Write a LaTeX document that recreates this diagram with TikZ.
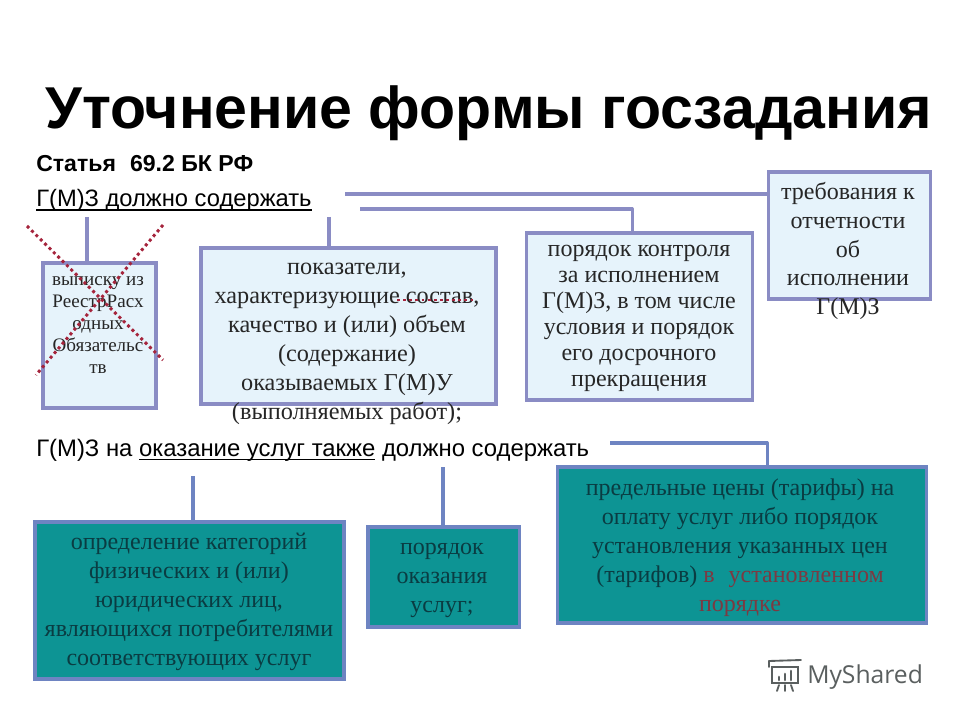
\documentclass[tikz,border=0pt]{standalone}
\usepackage{fontspec}
\setmainfont{Liberation Serif}
\newfontfamily\arialf{Liberation Sans}
\newfontfamily\logof{Open Sans}
\definecolor{bordl}{HTML}{8A8CC4}
\definecolor{filll}{HTML}{E6F3FB}
\definecolor{teal1}{HTML}{0D9494}
\definecolor{bordt}{HTML}{6E84C2}
\definecolor{tealtext}{HTML}{0A3C42}
\definecolor{redtext}{HTML}{7C3A42}
\definecolor{crossred}{HTML}{A5243C}
\definecolor{logogray}{HTML}{5A5F5F}
\newsavebox{\ulbox}
\newcommand{\thickul}[1]{\sbox{\ulbox}{#1}\leavevmode\rlap{\rule[-3.2pt]{\wd\ulbox}{1.2pt}}\usebox{\ulbox}}
\tikzset{
  lightbox/.style={draw=bordl,fill=filll,line width=2.26pt,rectangle,inner sep=0pt,outer sep=0pt},
  tealbox/.style={draw=bordt,fill=teal1,line width=2.26pt,rectangle,inner sep=0pt,outer sep=0pt},
  conn/.style={draw=bordl,line width=2.26pt,line join=round},
  connt/.style={draw=bordt,line width=2.26pt,line join=round},
  boxtext/.style={align=center,inner sep=0pt,text=black!85},
  tealt/.style={align=center,inner sep=0pt,text=tealtext},
  heading/.style={anchor=base west,inner sep=0pt,font=\arialf},
  crossline/.style={draw=crossred,line width=2.2pt,dash pattern=on 2.2pt off 2.4pt}
}
\newcommand{\boxat}[6]{\node[#1,minimum width=#4*0.75pt,minimum height=#5*0.75pt,anchor=north west] (#6) at (#2,#3) {};}
\begin{document}
\begin{tikzpicture}[x=0.75pt,y=-0.75pt]
\useasboundingbox (0,0) rectangle (960,720);
\fill[white] (0,0) rectangle (960,720);
% headings
\node[heading,font=\arialf\bfseries\fontsize{44.3pt}{48pt}\selectfont] (title) at (45,129) {Уточнение формы госзадания};
\node[heading,font=\arialf\bfseries\fontsize{17.3pt}{18pt}\selectfont] (art) at (36,172) {Статья\,\, 69.2 БК РФ};
\node[heading,font=\arialf\fontsize{17.8pt}{18pt}\selectfont] (must) at (36,206.5) {\thickul{Г(М)З должно содержать}};
\node[heading,font=\arialf\fontsize{17.9pt}{18pt}\selectfont] (must2) at (36,456) {Г(М)З на \thickul{оказание услуг также} должно содержать};
% free ends of connectors
\coordinate (a1) at (345,194);
\coordinate (a2) at (360,209);
\coordinate (a3) at (87,217);
\coordinate (a4) at (329,217);
\coordinate (a5) at (193,476);
\coordinate (a6) at (443,467);
\coordinate (a7) at (610,443);
% boxes
\boxat{lightbox}{43}{263}{113}{145}{b1}
\boxat{lightbox}{201}{248}{295}{156}{b2}
\boxat{lightbox}{526}{233}{226}{167}{b3}
\boxat{lightbox}{768}{172}{162}{127}{b4}
\boxat{tealbox}{35}{522}{309}{157}{t1}
\boxat{tealbox}{368}{527}{151}{100}{t2}
\boxat{tealbox}{557}{467}{369}{156}{t3}
% connectors
\draw[conn] (a1) -- (b4.west |- a1);
\draw[conn] (a2) -| (b3.north -| 632,0);
\draw[conn] (a3) -- (87,0 |- b1.north);
\draw[conn] (a4) -- (329,0 |- b2.north);
\draw[connt] (a5) -- (193,0 |- t1.north);
\draw[connt] (a6) -- (443,0 |- t2.north);
\draw[connt] (a7) -| (767,0 |- t3.north);
% box texts
\node[boxtext,font=\fontsize{14.3pt}{16.5pt}\selectfont] (x1) at (98,325.5) {выписку из\\РеестрРасх\\одных\\Обязательс\\тв};
\node[boxtext,font=\fontsize{18.2pt}{21.7pt}\selectfont] (x2) at (347,344) {показатели,\\характеризующие состав,\\качество и (или) объем\\(содержание)\\оказываемых Г(М)У\\(выполняемых работ);};
\node[boxtext,font=\fontsize{18pt}{19.5pt}\selectfont] (x3) at (639,318.5) {порядок контроля\\за исполнением\\Г(М)З, в том числе\\условия и порядок\\его досрочного\\прекращения};
\node[boxtext,font=\fontsize{18pt}{21.7pt}\selectfont] (x4) at (848,251) {требования к\\отчетности\\об\\исполнении\\Г(М)З};
\node[tealt,font=\fontsize{18pt}{21.7pt}\selectfont] (y1) at (189,602) {определение категорий\\физических и (или)\\юридических лиц,\\являющихся потребителями\\соответствующих услуг};
\node[tealt,font=\fontsize{18pt}{21.7pt}\selectfont] (y2) at (442,580.5) {порядок\\оказания\\услуг;};
\node[tealt,font=\fontsize{18pt}{21.7pt}\selectfont] (y3) at (740,548) {предельные цены (тарифы) на\\оплату услуг либо порядок\\установления указанных цен\\(тарифов) \textcolor{redtext}{в\,\, установленном}\\\textcolor{redtext}{порядке}};
% strike-outs
\coordinate (c1) at (27,226); \coordinate (c2) at (163,360);
\coordinate (c3) at (163,225); \coordinate (c4) at (36,375);
\coordinate (c5) at (397,300); \coordinate (c6) at (473,300);
\draw[crossline] (c1) -- (c2);
\draw[crossline] (c3) -- (c4);
\draw[crossline] (c5) -- (c6);
% logo
\node[anchor=base west,inner sep=0pt,text=logogray,font=\logof\fontsize{18.5pt}{20pt}\selectfont] (logo) at (807,683) {MyShared};
\begin{scope}[draw=logogray,line width=1.4pt,line cap=round]
\draw (769,661) -- (801,660);
\draw (772,667) rectangle (798,683);
\draw (769,661) -- (769,667);
\draw (779,685) -- (777,691);
\draw (785,685) -- (785,691);
\draw (791,685) -- (793,691);
\draw[line width=2pt] (779,680) -- (779,677);
\draw[line width=2pt] (785,680) -- (785,674);
\draw[line width=2pt] (791,680) -- (791,671);
\end{scope}
\end{tikzpicture}
\end{document}
